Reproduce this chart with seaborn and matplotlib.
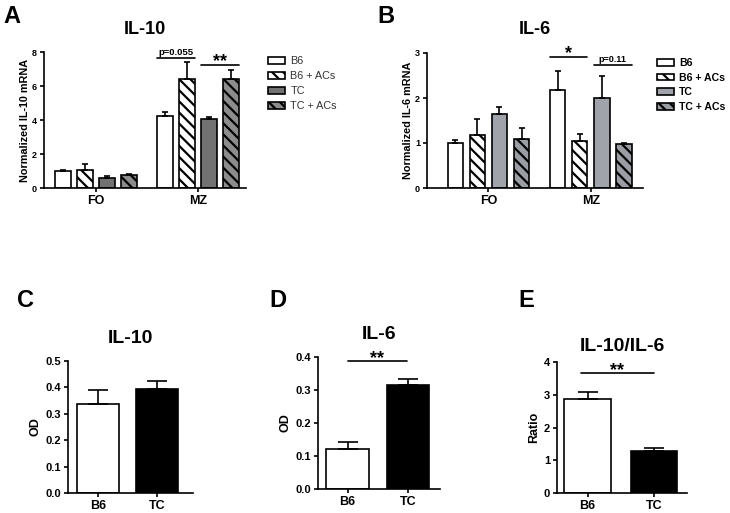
import numpy as np
import pandas as pd
import matplotlib
matplotlib.use("Agg")
import matplotlib.pyplot as plt
from matplotlib.patches import Patch
import seaborn as sns

# ---------------- data ----------------
groups = ["FO", "MZ"]
conditions = ["B6", "B6 + ACs", "TC", "TC + ACs"]

il10_mrna = {"B6": [1.01, 4.25], "B6 + ACs": [1.07, 6.42], "TC": [0.60, 4.04], "TC + ACs": [0.78, 6.42]}
il10_mrna_err = {"B6": [0.04, 0.24], "B6 + ACs": [0.32, 0.98], "TC": [0.08, 0.12], "TC + ACs": [0.05, 0.51]}

il6_mrna = {"B6": [1.00, 2.17], "B6 + ACs": [1.17, 1.05], "TC": [1.64, 2.00], "TC + ACs": [1.09, 0.98]}
il6_mrna_err = {"B6": [0.07, 0.44], "B6 + ACs": [0.36, 0.16], "TC": [0.17, 0.50], "TC + ACs": [0.24, 0.03]}

strains = ["B6", "TC"]
il10_od = [0.338, 0.395]
il10_od_err = [0.051, 0.029]
il6_od = [0.121, 0.315]
il6_od_err = [0.020, 0.018]
ratio = [2.88, 1.27]
ratio_err = [0.20, 0.11]

# ---------------- style ----------------
sns.set_theme(style="ticks")
plt.rcParams["font.family"] = ["Liberation Sans", "DejaVu Sans"]
plt.rcParams["font.weight"] = "bold"
plt.rcParams["axes.labelweight"] = "bold"
plt.rcParams["axes.titleweight"] = "bold"
plt.rcParams["text.color"] = "black"
plt.rcParams["axes.labelcolor"] = "black"
plt.rcParams["xtick.color"] = "black"
plt.rcParams["ytick.color"] = "black"
plt.rcParams["hatch.linewidth"] = 1.6
plt.rcParams["axes.linewidth"] = 1.2
plt.rcParams["xtick.major.width"] = 1.2
plt.rcParams["ytick.major.width"] = 1.2
plt.rcParams["xtick.major.size"] = 3
plt.rcParams["ytick.major.size"] = 3

fig = plt.figure(figsize=(7.3, 5.13), dpi=100)
W, H = 730, 513


def px_axes(l, r, t, b):
    return fig.add_axes([l / W, 1 - b / H, (r - l) / W, (b - t) / H])


HATCH = "\\\\\\"


def style_axes(ax):
    sns.despine(ax=ax)
    for s in ("left", "bottom"):
        ax.spines[s].set_color("black")
    ax.tick_params(axis="both", colors="black", direction="out", pad=2)
    ax.set_xlabel("")


def grouped_panel(ax, vals, errs, colors, hatches, ylim, yticks, ylabel, title, title_pad,
                  xlim, legend_bold, legend_anchor, legend_fs):
    rows = []
    for c in conditions:
        for gi, g in enumerate(groups):
            rows.append({"group": g, "cond": c, "value": vals[c][gi], "err": errs[c][gi]})
    df = pd.DataFrame(rows)
    sns.barplot(data=df, x="group", y="value", hue="cond", hue_order=conditions, order=groups,
                palette=colors, width=0.864, gap=0.3, errorbar=None, edgecolor="black",
                linewidth=1.2, legend=False, ax=ax, saturation=1)
    centers = {}
    for ci, (cont, c) in enumerate(zip(ax.containers, conditions)):
        for gi, bar in enumerate(cont):
            bar.set_hatch(hatches[ci])
            xc = bar.get_x() + bar.get_width() / 2
            centers[(c, gi)] = (bar.get_x(), bar.get_x() + bar.get_width())
            v = vals[c][gi]
            e = errs[c][gi]
            ax.errorbar([xc], [v], yerr=[[0], [e]], fmt="none", ecolor="black",
                        elinewidth=1.2, capsize=2.5, capthick=1.2, zorder=1)
    ax.set_ylim(*ylim)
    ax.set_yticks(yticks)
    ax.set_xlim(*xlim)
    ax.set_ylabel(ylabel, fontsize=7.8, labelpad=1.5)
    ax.set_title(title, fontsize=13, pad=title_pad)
    ax.tick_params(axis="y", labelsize=6.5)
    ax.tick_params(axis="x", labelsize=9)
    style_axes(ax)
    handles = [Patch(facecolor=colors[i], edgecolor="black", hatch=hatches[i], linewidth=1.2)
               for i in range(4)]
    leg = ax.legend(handles, conditions, loc="upper left", bbox_to_anchor=legend_anchor,
                    frameon=False, fontsize=legend_fs, handlelength=1.6, handleheight=0.6,
                    labelspacing=0.45, handletextpad=0.5, borderaxespad=0)
    for t in leg.get_texts():
        if legend_bold:
            t.set_fontweight("bold")
            t.set_color("black")
        else:
            t.set_fontweight("normal")
            t.set_color("#333333")
    return centers


def bracket(ax, x0, x1, y, text, fs, dy=0.0):
    ax.plot([x0, x1], [y, y], color="black", lw=1.2, clip_on=False)
    ax.text((x0 + x1) / 2, y + dy, text, ha="center", va="bottom", fontsize=fs,
            fontweight="bold", clip_on=False)


# ---------- Panel A ----------
axA = px_axes(44, 246, 52, 188)
cA = grouped_panel(axA, il10_mrna, il10_mrna_err,
                   ["white", "white", "#727272", "#8c8c8c"], ["", HATCH, "", HATCH],
                   (0, 8), [0, 2, 4, 6, 8], "Normalized IL-10 mRNA", "IL-10", 13,
                   (-0.51, 1.47), False, (1.085, 1.0), 7.8)
bracket(axA, cA[("B6", 1)][0], cA[("B6 + ACs", 1)][1], 7.67, "p=0.055", 6.8, 0.05)
bracket(axA, cA[("TC", 1)][0], cA[("TC + ACs", 1)][1], 7.22, "**", 13, -0.3)

# ---------- Panel B ----------
axB = px_axes(427, 643, 53, 188)
cB = grouped_panel(axB, il6_mrna, il6_mrna_err,
                   ["white", "white", "#a0a4aa", "#9a9ea4"], ["", HATCH, "", HATCH],
                   (0, 3), [0, 1, 2, 3], "Normalized IL-6 mRNA", "IL-6", 14,
                   (-0.6, 1.51), True, (1.045, 0.995), 7.6)
bracket(axB, cB[("B6", 1)][0], cB[("B6 + ACs", 1)][1], 2.91, "*", 13, -0.12)
bracket(axB, cB[("TC", 1)][0], cB[("TC + ACs", 1)][1], 2.73, "p=0.11", 6.5, 0.02)


# ---------- Panels C, D, E ----------
def simple_panel(ax, vals, errs, ylim, yticks, ylabel, title, title_pad, xlim, tickfmt):
    df = pd.DataFrame({"strain": strains, "value": vals})
    sns.barplot(data=df, x="strain", y="value", hue="strain", palette=["white", "black"],
                width=0.7, errorbar=None, edgecolor="black", linewidth=1.2, legend=False,
                ax=ax, saturation=1)
    for i, (v, e) in enumerate(zip(vals, errs)):
        ax.errorbar([i], [v], yerr=[[0], [e]], fmt="none", ecolor="black",
                    elinewidth=1.2, capsize=7, capthick=1.2, zorder=1)
    ax.set_ylim(*ylim)
    ax.set_yticks(yticks)
    ax.set_yticklabels([tickfmt.format(t) for t in yticks])
    ax.set_xlim(*xlim)
    ax.set_ylabel(ylabel, fontsize=9, labelpad=3)
    ax.set_title(title, fontsize=14, pad=title_pad)
    ax.tick_params(axis="y", labelsize=8)
    ax.tick_params(axis="x", labelsize=9)
    style_axes(ax)


axC = px_axes(68, 193, 361, 493)
simple_panel(axC, il10_od, il10_od_err, (0, 0.5), [0, 0.1, 0.2, 0.3, 0.4, 0.5], "OD",
             "IL-10", 13, (-0.5, 1.6), "{:.1f}")

axD = px_axes(318, 440, 357, 489)
simple_panel(axD, il6_od, il6_od_err, (0, 0.4), [0, 0.1, 0.2, 0.3, 0.4], "OD",
             "IL-6", 13, (-0.49, 1.53), "{:.1f}")
bracket(axD, 0.0, 0.98, 0.387, "**", 13, -0.018)

axE = px_axes(557, 687, 362, 493)
simple_panel(axE, ratio, ratio_err, (0, 4), [0, 1, 2, 3, 4], "Ratio",
             "IL-10/IL-6", 8, (-0.46, 1.5), "{:.0f}")
bracket(axE, -0.1, 1.0, 3.67, "**", 13, -0.2)

# ---------- panel letters ----------
for letter, x, y in [("A", 3, 23), ("B", 377, 23), ("C", 17, 307), ("D", 269, 307), ("E", 518, 307)]:
    fig.text(x / W, 1 - y / H, letter, fontsize=17, fontweight="bold", ha="left",
             va="baseline", color="black")

fig.savefig("out.png", dpi=100, facecolor="white")
